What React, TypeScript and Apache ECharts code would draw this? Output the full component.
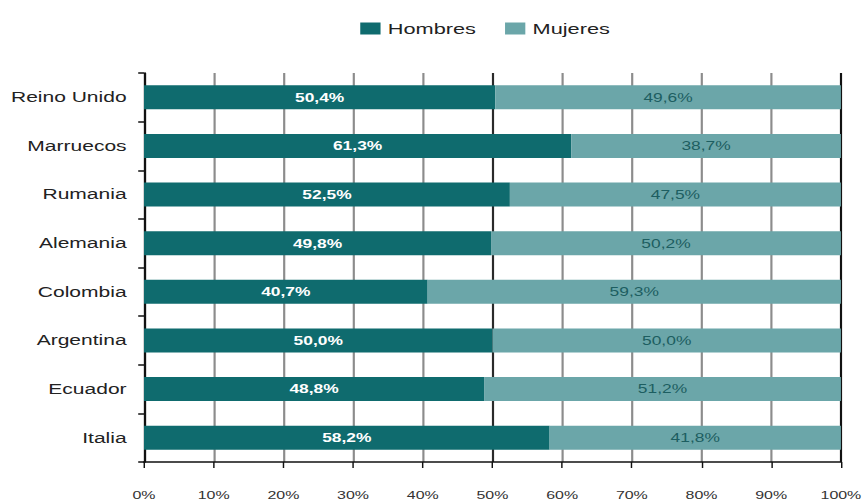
import React, { useEffect, useRef } from "react";
import * as echarts from "echarts";

const categories = ["Reino Unido", "Marruecos", "Rumania", "Alemania", "Colombia", "Argentina", "Ecuador", "Italia"];
const hombres = [50.4, 61.3, 52.5, 49.8, 40.7, 50.0, 48.8, 58.2];
const mujeres = [49.6, 38.7, 47.5, 50.2, 59.3, 50.0, 51.2, 41.8];
const seriesNames = ["Hombres", "Mujeres"];

const fmt = (v: number) => v.toFixed(1).replace(".", ",") + "%";

// The reference appears horizontally stretched; render narrower and stretch via CSS.
const SX = 1.45;
const W = 866 / SX;

export default function App() {
  const ref = useRef<HTMLDivElement>(null);
  useEffect(() => {
    const chart = echarts.init(ref.current!, null, { renderer: "svg" });
    const font = "Liberation Sans";
    chart.setOption({
      animation: false,
      textStyle: { fontFamily: font },
      legend: {
        top: 16,
        left: 353 / SX,
        itemWidth: 14,
        itemHeight: 12,
        itemGap: 20,
        icon: "rect",
        textStyle: { fontSize: 15, color: "#222", fontFamily: font },
        data: seriesNames,
      },
      grid: { left: 144 / SX, right: 23 / SX, top: 73, bottom: 41, containLabel: false },
      xAxis: {
        type: "value",
        min: 0,
        max: 100,
        interval: 10,
        axisLine: { show: true, lineStyle: { color: "#111", width: 1.5 } },
        axisTick: { show: true, length: 6, lineStyle: { color: "#111" } },
        axisLabel: { formatter: "{value}%", fontSize: 11, color: "#333", margin: 28 },
        splitLine: {
          show: true,
          lineStyle: {
            width: 1.5,
            color: ["#222", "#8c8c8c", "#8c8c8c", "#8c8c8c", "#8c8c8c", "#2a2a2a", "#8c8c8c", "#8c8c8c", "#8c8c8c", "#8c8c8c", "#111"],
          },
        },
      },
      yAxis: {
        type: "category",
        data: categories,
        inverse: true,
        axisLine: { show: true, lineStyle: { color: "#111", width: 1.5 } },
        axisTick: { show: true, length: 4, lineStyle: { color: "#111", width: 1.5 } },
        axisLabel: { fontSize: 14.5, color: "#222", margin: 12 },
      },
      series: [
        {
          name: seriesNames[0],
          type: "bar",
          stack: "total",
          barWidth: 24,
          data: hombres,
          itemStyle: { color: "#0f6b6e" },
          label: {
            show: true,
            position: "inside",
            color: "#fff",
            fontWeight: "bold",
            fontSize: 12,
            formatter: (p: any) => fmt(p.value),
          },
        },
        {
          name: seriesNames[1],
          type: "bar",
          stack: "total",
          barWidth: 24,
          data: mujeres,
          itemStyle: { color: "#6ba6a9" },
          label: {
            show: true,
            position: "inside",
            color: "#1d5e61",
            fontSize: 12,
            formatter: (p: any) => fmt(p.value),
          },
        },
      ],
    });
    return () => chart.dispose();
  }, []);
  return (
    <div
      ref={ref}
      style={{
        position: "absolute",
        left: 0,
        top: 0,
        width: W,
        height: 503,
        transform: `scaleX(${SX})`,
        transformOrigin: "0 0",
      }}
    />
  );
}
